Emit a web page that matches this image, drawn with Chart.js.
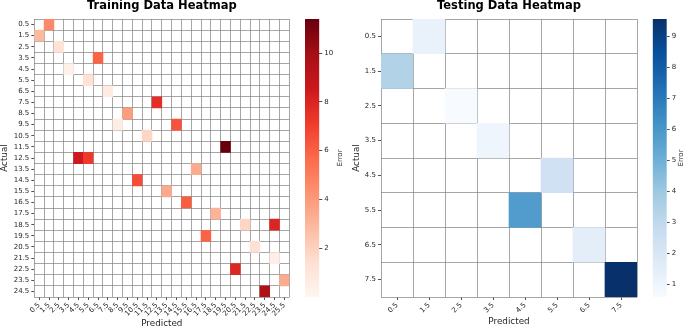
<!DOCTYPE html>
<html>
<head>
<meta charset="utf-8">
<script src="https://cdn.jsdelivr.net/npm/chart.js@4.4.1/dist/chart.umd.min.js"></script>
<style>
  html, body { margin: 0; padding: 0; background: #fff; }
  #fig { position: relative; width: 685px; height: 329px; overflow: hidden; background: #fff; }
  #fig canvas { position: absolute; top: 0; }
</style>
</head>
<body>
<div id="fig">
  <canvas id="trainHeat" width="298" height="329" style="left:0px"></canvas>
  <canvas id="trainBar" width="54" height="329" style="left:296px"></canvas>
  <canvas id="testHeat" width="298" height="329" style="left:348px"></canvas>
  <canvas id="testBar" width="39" height="329" style="left:646px"></canvas>
</div>
<script>
// --- data ---
const trainColLabels = ['0.5', '1.5', '2.5', '3.5', '4.5', '5.5', '6.5', '7.5', '8.5', '9.5', '10.5', '11.5', '12.5',
  '13.5', '14.5', '15.5', '16.5', '17.5', '18.5', '19.5', '20.5', '21.5', '22.5', '23.5', '24.5', '25.5'];
const trainRowLabels = ['0.5', '1.5', '2.5', '3.5', '4.5', '5.5', '6.5', '7.5', '8.5', '9.5', '10.5', '11.5', '12.5',
  '13.5', '14.5', '15.5', '16.5', '17.5', '18.5', '19.5', '20.5', '21.5', '22.5', '23.5', '24.5'];
const trainActual = [0.5, 1.5, 2.5, 3.5, 4.5, 5.5, 6.5, 7.5, 8.5, 9.5, 9.5, 10.5, 11.5, 12.5, 12.5,
  13.5, 14.5, 15.5, 16.5, 17.5, 18.5, 18.5, 19.5, 20.5, 21.5, 22.5, 23.5, 24.5];
const trainPredicted = [1.5, 0.5, 2.5, 6.5, 3.5, 5.5, 7.5, 12.5, 9.5, 8.5, 14.5, 11.5, 19.5, 4.5, 5.5,
  16.5, 10.5, 13.5, 15.5, 18.5, 21.5, 24.5, 17.5, 22.5, 24.5, 20.5, 25.5, 23.5];
const trainError = [4.6, 2.9, 1.25, 5.9, 0.35, 1.3, 0.7, 7.6, 3.9, 0.55, 6.4, 1.8, 11.4, 8.5, 7.2,
  3.4, 6.6, 3.45, 6.1, 3.1, 1.8, 8.0, 5.9, 1.35, 0.45, 7.9, 3.4, 9.6];
const trainCbarTicks = [2, 4, 6, 8, 10];

const testLabels = ['0.5', '1.5', '2.5', '3.5', '4.5', '5.5', '6.5', '7.5'];
const testActual = [0.5, 1.5, 2.5, 3.5, 4.5, 5.5, 6.5, 7.5];
const testPredicted = [1.5, 0.5, 2.5, 3.5, 5.5, 4.5, 6.5, 7.5];
const testError = [1.2, 3.4, 0.58, 1.0, 2.4, 5.8, 1.5, 9.57];
const testCbarTicks = [1, 2, 3, 4, 5, 6, 7, 8, 9];

// --- style ---
const FONT = 'DejaVu Sans';
const TEXT = '#262626';
const GRID = 'rgba(128,128,128,0.7)';
const REDS = ['#fff5f0', '#fee0d2', '#fcbba1', '#fc9272', '#fb6a4a', '#ef3b2c', '#cb181d', '#a50f15', '#67000d'];
const BLUES = ['#f7fbff', '#deebf7', '#c6dbef', '#9ecae1', '#6baed6', '#4292c6', '#2171b5', '#08519c', '#08306b'];

function hexRgb(h) {
    return [1, 3, 5].map(i => parseInt(h.slice(i, i + 2), 16));
}

function cmap(stops, t) {
    t = Math.min(1, Math.max(0, t));
    const pos = t * (stops.length - 1);
    const i = Math.min(Math.floor(pos), stops.length - 2);
    const f = pos - i;
    const a = hexRgb(stops[i]), b = hexRgb(stops[i + 1]);
    const c = a.map((v, k) => Math.round(v + (b[k] - v) * f));
    return 'rgb(' + c.join(',') + ')';
}

// "Error" label beside the colorbar, reading bottom to top
const cbarTitle = {
    id: 'cbarTitle',
    afterDraw(chart, args, opts) {
        const { ctx, chartArea, scales } = chart;
        ctx.save();
        ctx.translate(scales.y.right - opts.offset, (chartArea.top + chartArea.bottom) / 2);
        ctx.rotate(-Math.PI / 2);
        ctx.font = '7px "' + FONT + '"';
        ctx.fillStyle = TEXT;
        ctx.textAlign = 'center';
        ctx.textBaseline = 'middle';
        ctx.fillText(opts.text, 0, 0);
        ctx.restore();
    }
};

function heatmap(id, cfg) {
    const n = cfg.rowLabels.length;
    const rowVals = cfg.rowLabels.map(Number);
    const edges = [];
    for (let i = 0; i <= n; i++) edges.push(i);

    return new Chart(document.getElementById(id), {
        type: 'bar',
        data: {
            labels: cfg.colLabels,
            datasets: [{
                data: cfg.actual.map((a, i) => ({ x: String(cfg.predicted[i]), y: [a - 0.5, a + 0.5], v: cfg.error[i] })),
                backgroundColor: c => c.raw ? cmap(cfg.stops, (c.raw.v - cfg.vmin) / (cfg.vmax - cfg.vmin)) : '#fff',
                borderWidth: 0,
                categoryPercentage: 1,
                barPercentage: 1,
                grouped: false
            }]
        },
        options: {
            responsive: false,
            animation: false,
            layout: { padding: cfg.pad },
            plugins: {
                legend: { display: false },
                tooltip: { enabled: false },
                title: {
                    display: true,
                    text: cfg.title,
                    fullSize: false,
                    color: '#000',
                    font: { family: FONT, size: 11.5, weight: 'bold', lineHeight: 1 },
                    padding: { top: 0, bottom: 7.5 }
                }
            },
            scales: {
                x: {
                    offset: true,
                    grid: { offset: false, drawOnChartArea: false, tickLength: 3, tickWidth: 0.8, tickColor: TEXT },
                    border: { display: false },
                    ticks: { autoSkip: false, minRotation: 45, maxRotation: 45, padding: 1, color: TEXT, font: { family: FONT, size: 7 } },
                    title: { display: true, text: 'Predicted', color: TEXT, padding: { top: 0, bottom: cfg.xTitlePad }, font: { family: FONT, size: 8.8, lineHeight: 1 } },
                    afterFit: s => { s.height = 32; }
                },
                xg: {
                    type: 'category',
                    labels: cfg.colLabels,
                    position: 'bottom',
                    offset: true,
                    z: 1,
                    grid: { offset: true, color: GRID, lineWidth: 1, drawTicks: false },
                    border: { display: false },
                    ticks: { display: false },
                    afterFit: s => { s.height = 0; }
                },
                y: {
                    min: 0,
                    max: n,
                    reverse: true,
                    afterBuildTicks: s => { s.ticks = rowVals.map(v => ({ value: v })); },
                    ticks: { autoSkip: false, padding: 2, color: TEXT, font: { family: FONT, size: 7 }, callback: (v, i) => cfg.rowLabels[i] },
                    grid: { drawOnChartArea: false, tickLength: 3, tickWidth: 0.8, tickColor: TEXT },
                    border: { display: false },
                    title: { display: true, text: 'Actual', color: TEXT, padding: { top: cfg.yTitlePad, bottom: 0 }, font: { family: FONT, size: 8.8, lineHeight: 1 } },
                    afterFit: s => { s.width = cfg.yWidth; }
                },
                yg: {
                    type: 'linear',
                    position: 'left',
                    min: 0,
                    max: n,
                    reverse: true,
                    z: 1,
                    afterBuildTicks: s => { s.ticks = edges.map(v => ({ value: v })); },
                    grid: { color: GRID, lineWidth: 1, drawTicks: false },
                    border: { display: false },
                    ticks: { display: false },
                    afterFit: s => { s.width = 0; }
                }
            }
        }
    });
}

function colorbar(id, cfg) {
    return new Chart(document.getElementById(id), {
        type: 'bar',
        data: {
            labels: [''],
            datasets: [{
                data: [[cfg.vmin, cfg.vmax]],
                backgroundColor: c => {
                    const a = c.chart.chartArea;
                    if (!a) return null;
                    const g = c.chart.ctx.createLinearGradient(0, a.bottom, 0, a.top);
                    cfg.stops.forEach((s, i) => g.addColorStop(i / (cfg.stops.length - 1), s));
                    return g;
                },
                borderWidth: 0,
                categoryPercentage: 1,
                barPercentage: 1
            }]
        },
        options: {
            responsive: false,
            animation: false,
            layout: { padding: cfg.pad },
            plugins: {
                legend: { display: false },
                tooltip: { enabled: false },
                cbarTitle: { text: 'Error', offset: cfg.titleOffset }
            },
            scales: {
                x: { display: false },
                y: {
                    position: 'right',
                    min: cfg.vmin,
                    max: cfg.vmax,
                    afterBuildTicks: s => { s.ticks = cfg.ticks.map(v => ({ value: v })); },
                    ticks: { padding: 2, color: TEXT, font: { family: FONT, size: 7 } },
                    grid: { drawOnChartArea: false, tickLength: 3, tickWidth: 0.8, tickColor: TEXT },
                    border: { display: false },
                    afterFit: s => { s.width = cfg.axisWidth; }
                }
            }
        },
        plugins: [cbarTitle]
    });
}

const trainVmin = 0;
const trainVmax = Math.max(...trainError);
const testVmin = Math.min(...testError);
const testVmax = Math.max(...testError);

heatmap('trainHeat', {
    title: 'Training Data Heatmap',
    colLabels: trainColLabels, rowLabels: trainRowLabels,
    actual: trainActual, predicted: trainPredicted, error: trainError,
    stops: REDS, vmin: trainVmin, vmax: trainVmax,
    pad: { left: 0, right: 8.7, top: 0, bottom: 0 },
    yWidth: 34.3, yTitlePad: 0, xTitlePad: 0.6
});
colorbar('trainBar', {
    stops: REDS, vmin: trainVmin, vmax: trainVmax, ticks: trainCbarTicks,
    pad: { left: 9, right: 0, top: 19, bottom: 32 }, axisWidth: 30.7, titleOffset: 10
});

heatmap('testHeat', {
    title: 'Testing Data Heatmap',
    colLabels: testLabels, rowLabels: testLabels,
    actual: testActual, predicted: testPredicted, error: testError,
    stops: BLUES, vmin: testVmin, vmax: testVmax,
    pad: { left: 0, right: 9, top: 0, bottom: 0 },
    yWidth: 33, yTitlePad: 4.7, xTitlePad: 2.6
});
colorbar('testBar', {
    stops: BLUES, vmin: testVmin, vmax: testVmax, ticks: testCbarTicks,
    pad: { left: 6.7, right: 0, top: 19, bottom: 32 }, axisWidth: 18.3, titleOffset: 3.5
});
</script>
</body>
</html>
